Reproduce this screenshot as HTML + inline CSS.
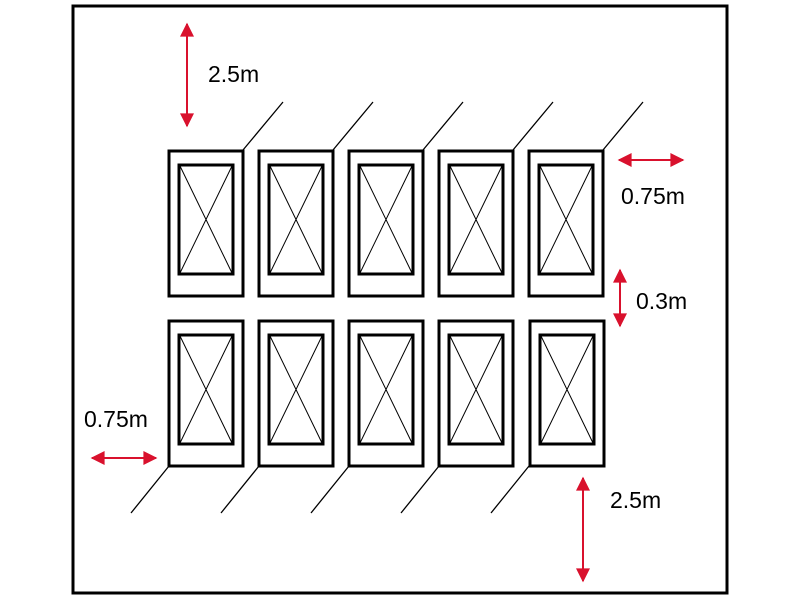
<!DOCTYPE html>
<html><head><style>body{margin:0;background:#fff}svg{display:block}</style></head><body>
<svg width="800" height="600" xmlns="http://www.w3.org/2000/svg">
<defs>
<marker id="a" viewBox="0 0 10 10" refX="9" refY="5" markerWidth="15" markerHeight="14" markerUnits="userSpaceOnUse" orient="auto-start-reverse"><path d="M0,0L10,5L0,10z" fill="#d9112d"/></marker>
</defs>
<rect x="73" y="6" width="654" height="587" fill="none" stroke="#000" stroke-width="3"/>
<g stroke="#000" fill="none">
<g id="t">
<rect x="169" y="151" width="74" height="145" stroke-width="3"/>
<rect x="179" y="165" width="54" height="109" stroke-width="3"/>
<path d="M180,166L232,273M232,166L180,273" stroke-width="1"/>
</g>
<use href="#t" x="90"/><use href="#t" x="180"/><use href="#t" x="270"/><use href="#t" x="360"/>
<use href="#t" y="170"/><use href="#t" x="90" y="170"/><use href="#t" x="180" y="170"/><use href="#t" x="270" y="170"/><use href="#t" x="361" y="170"/>
<g stroke-width="1.3">
<path d="M243,150L283,102M333,150L373,102M423,150L463,102M513,150L553,102M603,150L643,102"/>
<path d="M169,466L131,513M259,466L221,513M349,466L311,513M439,466L401,513M529,466L491,513"/>
</g>
</g>
<g stroke="#d9112d" stroke-width="2" marker-start="url(#a)" marker-end="url(#a)">
<line x1="187" y1="24" x2="187" y2="126"/>
<line x1="619" y1="160" x2="683" y2="160"/>
<line x1="620" y1="270" x2="620" y2="326"/>
<line x1="92" y1="458" x2="156" y2="458"/>
<line x1="583" y1="478" x2="583" y2="581"/>
</g>
<g font-family="Liberation Sans, sans-serif" font-size="23" fill="#000">
<text x="208" y="82">2.5m</text>
<text x="621" y="204">0.75m</text>
<text x="636" y="309">0.3m</text>
<text x="84" y="427">0.75m</text>
<text x="610" y="508">2.5m</text>
</g>
</svg>
</body></html>
